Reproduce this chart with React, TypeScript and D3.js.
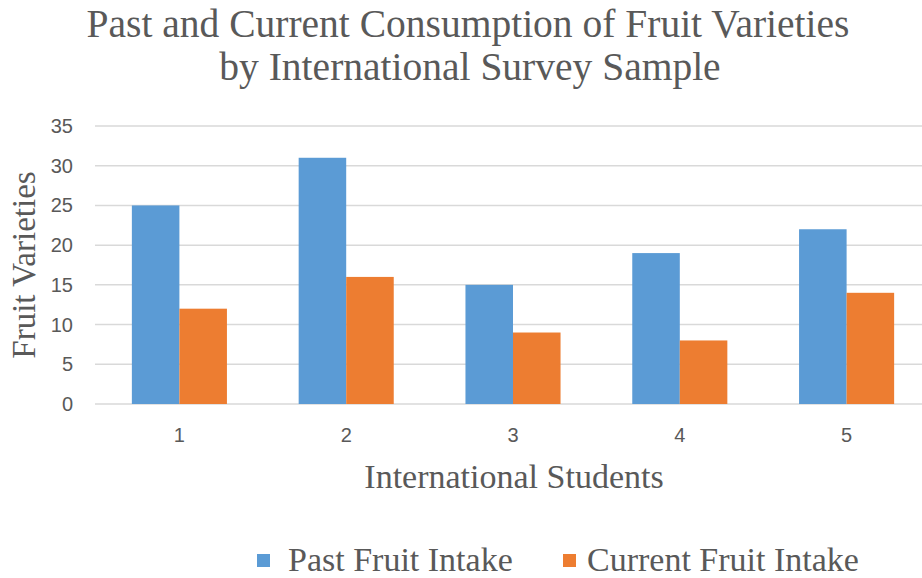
import React from "react";
import * as d3 from "d3";

const categories = ["1", "2", "3", "4", "5"];
const seriesNames = ["Past Fruit Intake", "Current Fruit Intake"];
const pastIntake = [25, 31, 15, 19, 22];
const currentIntake = [12, 16, 9, 8, 14];
const yTicks = [0, 5, 10, 15, 20, 25, 30, 35];
const colors = ["#5B9BD5", "#ED7D31"];

const W = 922;
const H = 578;
const plotLeft = 95;
const plotTop = 126;
const plotBottom = 404;

export default function App() {
  const x = d3
    .scaleBand<string>()
    .domain(categories)
    .range([96, 930])
    .paddingInner(0.43)
    .paddingOuter(0.215);
  const xs = d3
    .scaleBand<string>()
    .domain(seriesNames)
    .range([0, x.bandwidth()])
    .padding(0);
  const y = d3.scaleLinear().domain([0, 35]).range([plotBottom, plotTop]);
  const series = [pastIntake, currentIntake];
  const serif = "'Liberation Serif', 'Times New Roman', serif";
  const sans = "'Liberation Sans', Arial, sans-serif";
  const grey = "#595959";

  return (
    <svg
      width={W}
      height={H}
      style={{ position: "absolute", left: 0, top: 0, background: "#fff" }}
    >
      <rect x={0} y={0} width={W} height={H} fill="#fff" />
      <text x={468} y={37} textAnchor="middle" fontFamily={serif} fontSize={39.5} fill={grey}>
        Past and Current Consumption of Fruit Varieties
      </text>
      <text x={470} y={80} textAnchor="middle" fontFamily={serif} fontSize={39.5} fill={grey}>
        by International Survey Sample
      </text>
      {yTicks.map((t) => (
        <g key={t}>
          <line x1={plotLeft} x2={W} y1={y(t)} y2={y(t)} stroke="#d9d9d9" strokeWidth={1.5} />
          <text
            x={73}
            y={y(t)}
            dy="0.35em"
            textAnchor="end"
            fontFamily={sans}
            fontSize={20}
            fill={grey}
          >
            {t}
          </text>
        </g>
      ))}
      {categories.map((c, i) => (
        <g key={c}>
          {series.map((vals, s) => (
            <rect
              key={s}
              x={(x(c) ?? 0) + (xs(seriesNames[s]) ?? 0)}
              y={y(vals[i])}
              width={xs.bandwidth()}
              height={y(0) - y(vals[i])}
              fill={colors[s]}
            />
          ))}
          <text
            x={(x(c) ?? 0) + x.bandwidth() / 2}
            y={442}
            textAnchor="middle"
            fontFamily={sans}
            fontSize={20}
            fill={grey}
          >
            {c}
          </text>
        </g>
      ))}
      <text
        transform="translate(35,265) rotate(-90)"
        textAnchor="middle"
        fontFamily={serif}
        fontSize={33}
        fill={grey}
      >
        Fruit Varieties
      </text>
      <text x={514} y={488} textAnchor="middle" fontFamily={serif} fontSize={34} fill={grey}>
        International Students
      </text>
      {[257, 563].map((lx, s) => (
        <g key={s}>
          <rect x={lx} y={554} width={13} height={13} fill={colors[s]} />
          <text
            x={lx + (s === 0 ? 31 : 24)}
            y={571}
            fontFamily={serif}
            fontSize={34}
            fill={grey}
          >
            {seriesNames[s]}
          </text>
        </g>
      ))}
    </svg>
  );
}
